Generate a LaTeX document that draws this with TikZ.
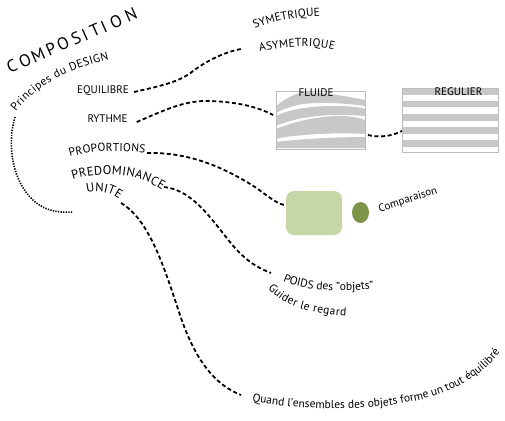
\documentclass[tikz,border=0pt]{standalone}
\usepackage{fontspec}
\setmainfont{PT Sans}
\usetikzlibrary{decorations.text,shapes.geometric}
\definecolor{lightgreen}{HTML}{C5D6A7}
\definecolor{darkgreen}{HTML}{7D9348}
\definecolor{bandgray}{HTML}{C8C8C8}
\definecolor{framegray}{HTML}{BDBDBD}
\tikzset{
  dashline/.style={line width=1.8pt, dash pattern=on 4pt off 2.6pt},
  dotline/.style={line width=1.6pt, dash pattern=on 1.3pt off 1.3pt},
  lbl/.style={inner sep=0pt, font=\fontsize{11}{13}\selectfont},
  curvetext/.style 2 args={decorate, decoration={text along path, text={|\fontsize{#1}{13}\selectfont|#2}, text align=fit to path}},
  frame/.style={draw=framegray, line width=0.6pt, inner sep=0pt},
  band/.style={fill=bandgray},
  bigletter/.style={inner sep=0pt, font=\fontsize{17}{20}\selectfont, rotate=24},
}
\begin{document}
\begin{tikzpicture}[x=1pt, y=-1pt]
\useasboundingbox (0,0) rectangle (505,420);

% COMPOSITION
\foreach \l/\x/\y [count=\i] in {C/12/66, O/25/60.4, M/38/54.9, P/51/49.3, O/63/44.1, S/76/38.6, I/85/34.7, T/95/30.4, I/104/26.6, O/116/21.4, N/131/15}
  \node[bigletter] (cp\i) at (\x,\y) {\l};

% curved texts
\path[curvetext={11.5}{Principes du DESIGN}] (16,112) .. controls (33,90) and (60,71) .. (109,60);
\path[curvetext={11.5}{SYMETRIQUE}] (255,29) .. controls (270,22) and (292,17) .. (320,16);
\path[curvetext={11.5}{ASYMETRIQUE}] (260,52) .. controls (285,46) and (312,44) .. (334,50);
\path[curvetext={11.5}{PROPORTIONS}] (70,157) .. controls (95,150) and (120,150) .. (145,153);
\path[curvetext={12.5}{PREDOMINANCE}] (73,180) .. controls (100,171) and (135,172) .. (162,190);
\path[curvetext={12.5}{UNITE}] (87,193) .. controls (98,190) and (110,192) .. (119,199);
\path[curvetext={11.5}{POIDS des "objets"}] (283,281) .. controls (300,289) and (330,293) .. (372,289);
\path[curvetext={11.5}{Guider le regard}] (268,288) .. controls (278,300) and (294,312) .. (346,316);
\path[curvetext={11.5}{Quand l'ensembles des objets forme un tout équilibré}] (252,401) .. controls (320,414) and (400,410) .. (445,392) .. controls (470,382) and (488,368) .. (500,352);

% straight labels
\node[lbl] (equi) at (103,90.5) {EQUILIBRE};
\node[lbl] (ryth) at (107.5,119) {RYTHME};
\node[lbl, rotate=18] (comp) at (408,200) {Comparaison};

% FLUIDE box
\fill[band] (276,106) .. controls (286,98) and (296,93) .. (305,92) .. controls (330,93) and (350,97) .. (365,100) -- (365,106) .. controls (345,103) and (320,102) .. (303,104) .. controls (292,106) and (283,109) .. (276,113) -- cycle;
\fill[band] (276,116) .. controls (290,109) and (310,106) .. (335,106) .. controls (350,106) and (360,107) .. (365,109) -- (365,116) .. controls (350,115) and (330,114) .. (310,117) .. controls (295,119) and (285,122) .. (276,126) -- cycle;
\fill[band] (276,129) .. controls (295,121) and (320,116) .. (340,116) .. controls (352,116) and (360,118) .. (365,120) -- (365,134) .. controls (350,133) and (325,133) .. (305,135) .. controls (292,136) and (283,137) .. (276,139) -- cycle;
\fill[band] (276,142) .. controls (300,139) and (335,137) .. (365,137) -- (365,148) -- (276,148) -- cycle;
\node[frame, anchor=north west, minimum width=89pt, minimum height=58pt] (fluidbox) at (276,91) {};
\node[lbl] (flu) at (316,92.5) {FLUIDE};

% REGULIER box
\foreach \s in {88,100.5,114,127,140}
  \fill[band] (402,\s) rectangle (498,\s+6.5);
\node[frame, anchor=north west, minimum width=96pt, minimum height=64pt] (regbox) at (402,88) {};
\node[lbl] (reg) at (458.5,92) {REGULIER};

% green shapes
\node[fill=lightgreen, rounded corners=8pt, minimum width=56pt, minimum height=44pt, inner sep=0pt] (gbox) at (314,213) {};
\node[ellipse, fill=darkgreen, minimum width=17pt, minimum height=21pt, inner sep=0pt] (gdot) at (360.5,212.5) {};

% coordinates
\coordinate (princL) at (15,117);
\coordinate (dotEnd) at (73,212);
\coordinate (asymL) at (241,49);
\coordinate (rythEnd) at (273,115);
\coordinate (fluR) at (368,135);
\coordinate (regL) at (402,131);
\coordinate (propR) at (147,153);
\coordinate (predR) at (164,187);
\coordinate (poidsL) at (271,273);
\coordinate (uniteR) at (121,203);
\coordinate (quandL) at (241,395);

% connectors
\draw[dotline] (princL) .. controls (8,140) and (10,175) .. (30,197) .. controls (42,210) and (55,213) .. (dotEnd);
\draw[dashline] ([xshift=5pt,yshift=-1.5pt]equi.east) .. controls (160,86) and (180,82) .. (193,71) .. controls (208,60) and (225,52) .. (asymL);
\draw[dashline] ([xshift=9pt,yshift=-3pt]ryth.east) .. controls (165,110) and (185,100) .. (210,101) .. controls (240,102) and (260,108) .. (rythEnd);
\draw[dashline] (fluR) .. controls (380,138) and (392,136) .. (regL);
\draw[dashline] (propR) .. controls (190,152) and (225,168) .. (255,187) .. controls (268,196) and (278,205) .. ([yshift=8pt]gbox.west);
\draw[dashline] (predR) .. controls (195,190) and (215,225) .. (235,248) .. controls (248,262) and (258,268) .. (poidsL);
\draw[dashline] (uniteR) .. controls (150,220) and (165,270) .. (180,315) .. controls (195,360) and (215,385) .. (quandL);
\end{tikzpicture}
\end{document}
